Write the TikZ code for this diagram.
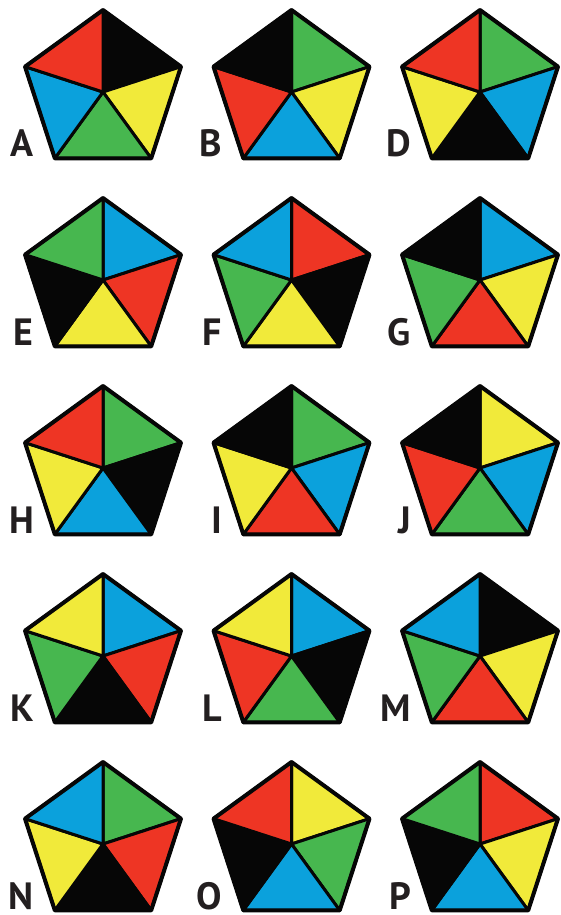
\documentclass[tikz,border=0pt]{standalone}
\usepackage{fontspec}
\setsansfont{PT Sans}
\usetikzlibrary{positioning}

\definecolor{pred}{HTML}{EE3524}
\definecolor{pgreen}{HTML}{47B74F}
\definecolor{pblue}{HTML}{0BA1DC}
\definecolor{pyellow}{HTML}{F1EA3A}
\definecolor{pblack}{HTML}{060606}
\definecolor{plabel}{HTML}{231F20}

\begin{document}
\begin{tikzpicture}[
    x=1pt, y=1pt,
    wedge/.style  = {draw=pblack, line width=3pt, line join=round},
    rim/.style    = {draw=pblack, line width=4pt, line join=round},
    letter/.style = {anchor=base east, inner sep=0pt, text=plabel, font=\sffamily\bfseries\fontsize{38}{38}\selectfont}
]
\useasboundingbox (0,0) rectangle (560,-915);

% --- Fuenfecke: Name/Spalte/Zeile/oben rechts/unten rechts/unten/unten links/oben links ---
\foreach \tag/\col/\row/\ur/\lr/\bt/\ll/\ul in {
    A/0/0/pblack/pyellow/pgreen/pblue/pred,
    B/1/0/pgreen/pyellow/pblue/pred/pblack,
    D/2/0/pgreen/pblue/pblack/pyellow/pred,
    E/0/1/pblue/pred/pyellow/pblack/pgreen,
    F/1/1/pred/pblack/pyellow/pgreen/pblue,
    G/2/1/pblue/pyellow/pred/pgreen/pblack,
    H/0/2/pgreen/pblack/pblue/pyellow/pred,
    I/1/2/pgreen/pblue/pred/pyellow/pblack,
    J/2/2/pyellow/pblue/pgreen/pred/pblack,
    K/0/3/pblue/pred/pblack/pgreen/pyellow,
    L/1/3/pblue/pblack/pgreen/pred/pyellow,
    M/2/3/pblack/pyellow/pred/pgreen/pblue,
    N/0/4/pgreen/pred/pblack/pyellow/pblue,
    O/1/4/pyellow/pgreen/pblue/pblack/pred,
    P/2/4/pred/pyellow/pblue/pblack/pgreen}{
  \pgfmathsetmacro{\cx}{103+188.5*\col}
  \pgfmathsetmacro{\cy}{-92-188*\row}
  \begin{scope}[shift={(\cx,\cy)}]
    \coordinate (c-\tag) at (0,0);
    \filldraw[wedge, fill=\ur] (c-\tag) -- (90:82) -- (18:82) -- cycle;
    \filldraw[wedge, fill=\lr] (c-\tag) -- (18:82) -- (-54:82) -- cycle;
    \filldraw[wedge, fill=\bt] (c-\tag) -- (-54:82) -- (-126:82) -- cycle;
    \filldraw[wedge, fill=\ll] (c-\tag) -- (-126:82) -- (162:82) -- cycle;
    \filldraw[wedge, fill=\ul] (c-\tag) -- (162:82) -- (90:82) -- cycle;
    \draw[rim] (90:82) -- (18:82) -- (-54:82) -- (-126:82) -- (162:82) -- cycle;
    % --- Buchstabe ---
    \node[letter] (lbl-\tag) at (-69,-65) {\tag};
  \end{scope}
}

\end{tikzpicture}
\end{document}
